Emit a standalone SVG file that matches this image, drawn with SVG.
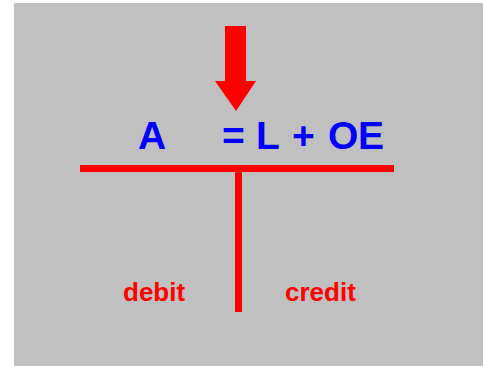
<svg xmlns="http://www.w3.org/2000/svg" width="483" height="366" viewBox="0 0 483 366">
<style>
.eq{font-family:"Liberation Sans",Arial,sans-serif;font-weight:bold;fill:#0000ff;font-size:39px}
.lbl{font-family:"Liberation Sans",Arial,sans-serif;font-weight:bold;fill:#ff0000;font-size:26px}
.bar{fill:#ff0000}
</style>
<rect x="0" y="0" width="483" height="366" fill="#ffffff"/>
<rect x="14" y="3" width="469" height="363" fill="#c0c0c0"/>
<g id="arrow">
<polygon class="bar" points="225,26 246,26 246,81 256,81 236,111 215,81 225,81"/>
</g>
<g id="equation">
<text class="eq" x="138" y="149">A</text>
<text class="eq" y="149"><tspan x="222">=</tspan><tspan x="256">L</tspan><tspan x="292">+</tspan><tspan x="328">O</tspan><tspan x="358">E</tspan></text>
</g>
<g id="connectors">
<rect class="bar" x="80" y="165" width="314" height="7"/>
<rect class="bar" x="235" y="172" width="7" height="140"/>
</g>
<g id="debit">
<text class="lbl" x="123" y="301">debit</text>
</g>
<g id="credit">
<text class="lbl" x="285" y="301">credit</text>
</g>
</svg>
